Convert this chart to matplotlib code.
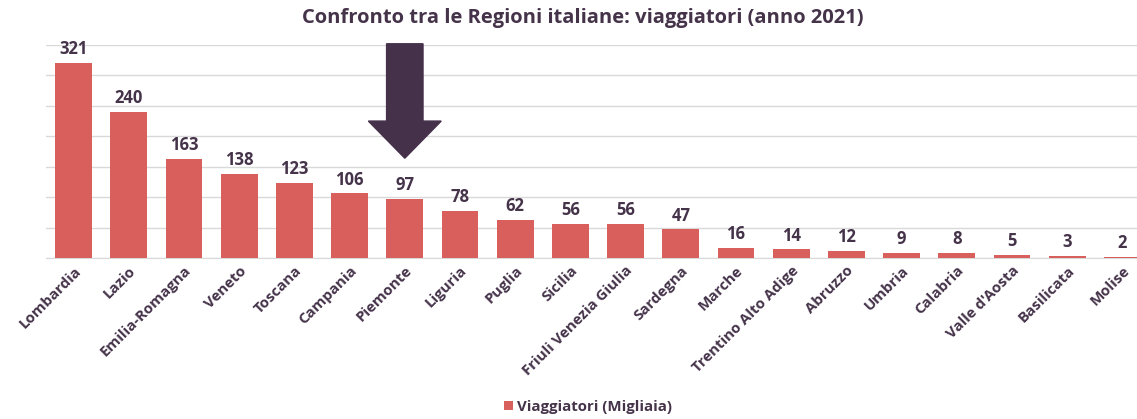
import matplotlib.pyplot as plt
from matplotlib.patches import Polygon

regioni = ['Lombardia', 'Lazio', 'Emilia-Romagna', 'Veneto', 'Toscana', 'Campania',
           'Piemonte', 'Liguria', 'Puglia', 'Sicilia', 'Friuli Venezia Giulia',
           'Sardegna', 'Marche', 'Trentino Alto Adige', 'Abruzzo', 'Umbria',
           'Calabria', "Valle d'Aosta", 'Basilicata', 'Molise']
viaggiatori = [321, 240, 163, 138, 123, 106, 97, 78, 62, 56, 56, 47, 16, 14, 12, 9, 8, 5, 3, 2]

testo = '#45334a'
rosso = '#d85f5b'
plt.rcParams['font.family'] = ['Open Sans', 'DejaVu Sans']

fig = plt.figure(figsize=(11.37, 4.19), dpi=100)
W, H = 1137, 419
ax = fig.add_axes([46 / W, 1 - 258 / H, (1150 - 46) / W, (258 - 45) / H])

x = range(len(regioni))
bars = ax.bar(x, viaggiatori, width=0.67, color=rosso, label='Viaggiatori (Migliaia)', zorder=3)
for xi, v in zip(x, viaggiatori):
    ax.text(xi, v + 8, str(v), ha='center', va='bottom', fontsize=12,
            fontweight='bold', color=testo)

ax.set_xlim(-0.5, len(regioni) - 0.5)
ax.set_ylim(0, 350)
ax.set_yticks(range(0, 351, 50))
ax.set_yticklabels([])
ax.tick_params(axis='y', length=0)
ax.tick_params(axis='x', length=0, pad=4)
ax.grid(axis='y', color='#d9d9d9', linewidth=1, zorder=0)
ax.set_xticks(list(x))
ax.set_xticklabels(regioni, rotation=45, ha='right', rotation_mode='anchor',
                   fontsize=10.8, fontweight='bold', color=testo)
for s in ['top', 'right', 'left']:
    ax.spines[s].set_visible(False)
ax.spines['bottom'].set_color('#d9d9d9')

# freccia su Piemonte
px = regioni.index('Piemonte')
freccia = Polygon([(px - 0.33, 352), (px + 0.33, 352), (px + 0.33, 225), (px + 0.66, 225),
                   (px, 164), (px - 0.66, 225), (px - 0.33, 225)],
                  closed=True, color='#45314a', clip_on=False, zorder=5)
ax.add_patch(freccia)

fig.text(583 / W, 1 - 18 / H, 'Confronto tra le Regioni italiane: viaggiatori (anno 2021)',
         ha='center', va='center', fontsize=14.5, fontweight='bold', color=testo)
fig.legend(handles=[bars], loc='center', bbox_to_anchor=(588 / W, 1 - 407 / H),
           frameon=False, handlelength=0.6, handleheight=0.6,
           handletextpad=0.3, labelcolor=testo, prop={'weight': 'bold', 'size': 10.8})

fig.savefig('out.png', dpi=100)
